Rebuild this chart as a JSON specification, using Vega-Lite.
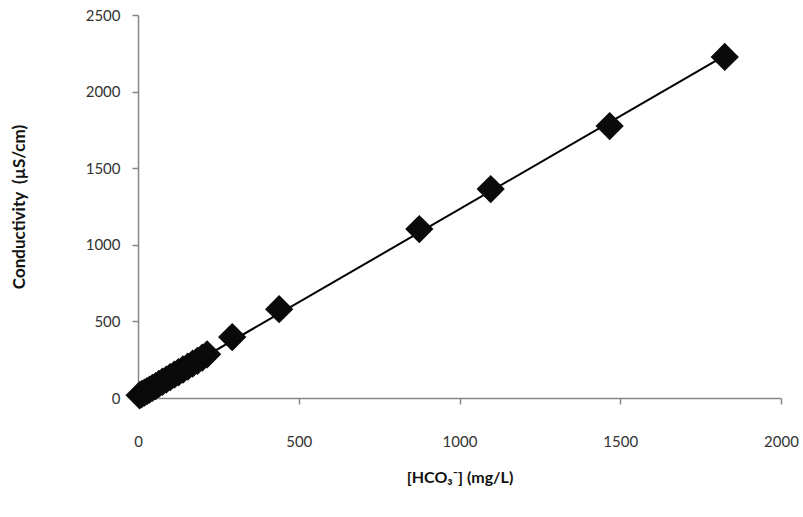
{
  "$schema": "https://vega.github.io/schema/vega-lite/v6.json",
  "autosize": "none",
  "width": 643,
  "height": 383,
  "padding": {"left": 138, "top": 15, "right": 22, "bottom": 119},
  "background": "white",
  "config": {
    "view": {"stroke": null},
    "font": "Lato",
    "axis": {
      "grid": false,
      "domainColor": "#868686",
      "tickColor": "#868686",
      "domainWidth": 1.5,
      "tickWidth": 1.5,
      "tickSize": 6,
      "labelFont": "Lato",
      "labelFontSize": 15,
      "labelColor": "#333333",
      "labelFlush": false,
      "labelOverlap": false,
      "format": "d",
      "titleFont": "Lato",
      "titleFontSize": 16,
      "titleFontWeight": "bold",
      "titleColor": "#111111"
    }
  },
  "data": {
    "values": [
      {"HCO3": 5, "Cond": 18},
      {"HCO3": 12, "Cond": 26},
      {"HCO3": 20, "Cond": 35},
      {"HCO3": 28, "Cond": 45},
      {"HCO3": 36, "Cond": 55},
      {"HCO3": 45, "Cond": 66},
      {"HCO3": 55, "Cond": 78},
      {"HCO3": 65, "Cond": 92},
      {"HCO3": 76, "Cond": 106},
      {"HCO3": 88, "Cond": 120},
      {"HCO3": 100, "Cond": 136},
      {"HCO3": 113, "Cond": 152},
      {"HCO3": 126, "Cond": 168},
      {"HCO3": 140, "Cond": 186},
      {"HCO3": 155, "Cond": 205},
      {"HCO3": 170, "Cond": 224},
      {"HCO3": 185, "Cond": 243},
      {"HCO3": 200, "Cond": 264},
      {"HCO3": 215, "Cond": 285},
      {"HCO3": 293, "Cond": 398},
      {"HCO3": 439, "Cond": 580},
      {"HCO3": 875, "Cond": 1103},
      {"HCO3": 1097, "Cond": 1364},
      {"HCO3": 1467, "Cond": 1775},
      {"HCO3": 1825, "Cond": 2226}
    ]
  },
  "layer": [
    {
      "transform": [{"regression": "Cond", "on": "HCO3"}],
      "mark": {"type": "line", "color": "#000000", "strokeWidth": 2},
      "encoding": {
        "x": {"field": "HCO3", "type": "quantitative"},
        "y": {"field": "Cond", "type": "quantitative"}
      }
    },
    {
      "mark": {"type": "point", "shape": "diamond", "filled": true, "size": 800, "color": "#0a0a0a", "opacity": 1},
      "encoding": {
        "x": {
          "field": "HCO3",
          "type": "quantitative",
          "scale": {"domain": [0, 2000], "nice": false, "zero": true},
          "axis": {
            "values": [0, 500, 1000, 1500, 2000],
            "title": "[HCO₃⁻] (mg/L)",
            "labelPadding": 30,
            "titlePadding": 20
          }
        },
        "y": {
          "field": "Cond",
          "type": "quantitative",
          "scale": {"domain": [0, 2500], "nice": false},
          "axis": {
            "values": [0, 500, 1000, 1500, 2000, 2500],
            "title": "Conductivity\u00a0 (µS/cm)",
            "titleFontSize": 17,
            "labelPadding": 12,
            "titlePadding": 57
          }
        }
      }
    }
  ]
}
